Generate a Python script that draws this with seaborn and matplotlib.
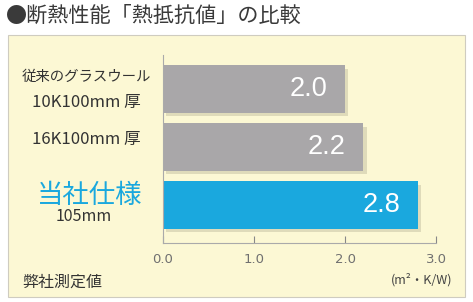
import matplotlib
matplotlib.use("Agg")
import matplotlib.pyplot as plt
import matplotlib.patheffects as pe
from matplotlib.patches import Rectangle
import seaborn as sns
import pandas as pd

# data
categories = ["従来のグラスウール\n10K100mm 厚", "16K100mm 厚", "当社仕様\n105mm"]
values = [2.0, 2.2, 2.8]
value_labels = ["2.0", "2.2", "2.8"]
bar_colors = ["#A9A7A9", "#A9A7A9", "#1AA8DE"]
xticks = [0.0, 1.0, 2.0, 3.0]
xtick_labels = ["0.0", "1.0", "2.0", "3.0"]
title = "●断熱性能「熱抵抗値」の比較"
unit_label = "(m²・K/W)"
note = "弊社測定値"

sns.set_theme(style="white")
plt.rcParams['font.family'] = ['Noto Sans CJK JP', 'DejaVu Sans']

fig = plt.figure(figsize=(4.73, 3.02), dpi=100)
fig.patch.set_facecolor("white")

# panel background
panel = Rectangle((8/473, 1-297/302), (465-8)/473, (297-35)/302,
                  transform=fig.transFigure, facecolor="#FCF8D4",
                  edgecolor="#CFCCC0", linewidth=0.8, zorder=-5)
fig.patches.append(panel)

ax = fig.add_axes([163/473, 1-243/302, (436-163)/473, (243-55)/302], zorder=2)
ax.set_facecolor("none")

df = pd.DataFrame({"cat": categories, "val": values})
sns.barplot(data=df, y="cat", x="val", hue="cat", palette=bar_colors,
            legend=False, ax=ax, width=0.82, orient="h", saturation=1)

shadow = [pe.SimplePatchShadow(offset=(2.5, -2.5), shadow_rgbFace="#8a8770", alpha=0.25),
          pe.Normal()]
for p in ax.patches:
    p.set_path_effects(shadow)
    p.set_linewidth(0)

ax.set_xlim(0, 3)
ax.set_ylim(2.655, -0.586)
ax.set_xticks(xticks)
ax.set_xticklabels(xtick_labels, color="#707070", fontsize=9.5,
                   family=['DejaVu Sans'])
ax.tick_params(axis="x", direction="in", length=5, width=0.8, color="#888888",
               pad=7, bottom=True)
ax.set_yticks(range(len(categories)))
ax.set_yticklabels([])
ax.tick_params(axis="y", left=False)
ax.set_xlabel("")
ax.set_ylabel("")
for s in ["top", "right"]:
    ax.spines[s].set_visible(False)
for s in ["left", "bottom"]:
    ax.spines[s].set_color("#AAAAAA")
    ax.spines[s].set_linewidth(0.8)

# value labels inside bars
for i, (v, lab) in enumerate(zip(values, value_labels)):
    ax.text(v - 0.19, i, lab, ha="right", va="center", color="white",
            fontsize=19.5, family=['Liberation Sans'])

# category labels
xc = 86/473
def ypix(i):
    return ax.transData.transform((0, i))[1]
fig.canvas.draw()
tr = fig.transFigure.inverted()
lines = categories
y0 = tr.transform((0, ypix(0)))[1]
fig.text(xc, y0 + 12/302, lines[0].split("\n")[0], ha="center", va="center",
         fontsize=10.4, color="#333333")
fig.text(xc, y0 - 14/302, lines[0].split("\n")[1], ha="center", va="center",
         fontsize=12, color="#333333")
y1 = tr.transform((0, ypix(1)))[1]
fig.text(xc, y1 + 7/302, lines[1], ha="center", va="center",
         fontsize=12, color="#333333")
y2 = tr.transform((0, ypix(2)))[1]
fig.text(xc + 4/473, y2 + 10/302, lines[2].split("\n")[0], ha="center", va="center",
         fontsize=19, color="#1AA8DE")
fig.text(xc - 2/473, y2 - 11/302, lines[2].split("\n")[1], ha="center", va="center",
         fontsize=11.5, color="#333333")

# title, unit, note
fig.text(6/473, 1-16/302, title, ha="left", va="center", fontsize=15.2,
         color="#3a3a3a")
fig.text(452/473, 1-280/302, unit_label, ha="right", va="center",
         fontsize=9, color="#444444")
fig.text(22/473, 1-282/302, note, ha="left", va="center", fontsize=11.5,
         color="#333333")

fig.savefig("out.png", dpi=100)
